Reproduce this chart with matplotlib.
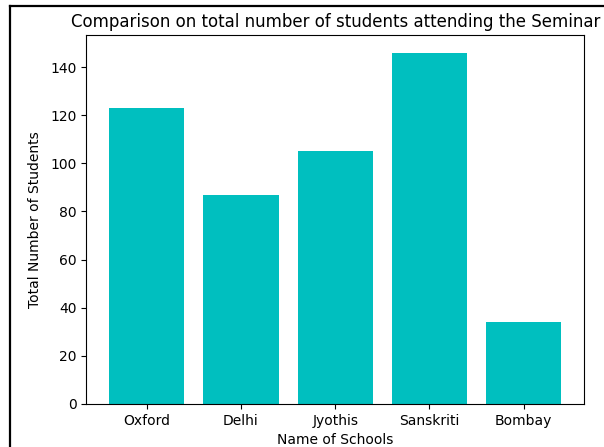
import matplotlib
matplotlib.use('Agg')
import matplotlib.pyplot as plt
from matplotlib.lines import Line2D

schools = ['Oxford', 'Delhi', 'Jyothis', 'Sanskriti', 'Bombay']
students = [123, 87, 105, 146, 34]

fig = plt.figure(figsize=(6.04, 4.47), dpi=100)
ax = fig.add_axes([0.1430, 0.0962, 0.8240, 0.8255])

ax.bar(schools, students, color='c')
ax.set_xlabel('Name of Schools', fontsize=10, labelpad=3.5)
ax.set_ylabel('Total Number of Students', fontsize=10, labelpad=6)
ax.set_title('Comparison on total number of students attending the Seminar', fontsize=12)
ax.tick_params(labelsize=10)

# screenshot frame on left and top
fig.add_artist(Line2D([9.5 / 604, 9.5 / 604], [0, 1 - 5.5 / 447],
                      transform=fig.transFigure, color='black', lw=1.6))
fig.add_artist(Line2D([9.5 / 604, 1], [1 - 5.5 / 447, 1 - 5.5 / 447],
                      transform=fig.transFigure, color='black', lw=1.6))

fig.savefig('out.png', dpi=100)
